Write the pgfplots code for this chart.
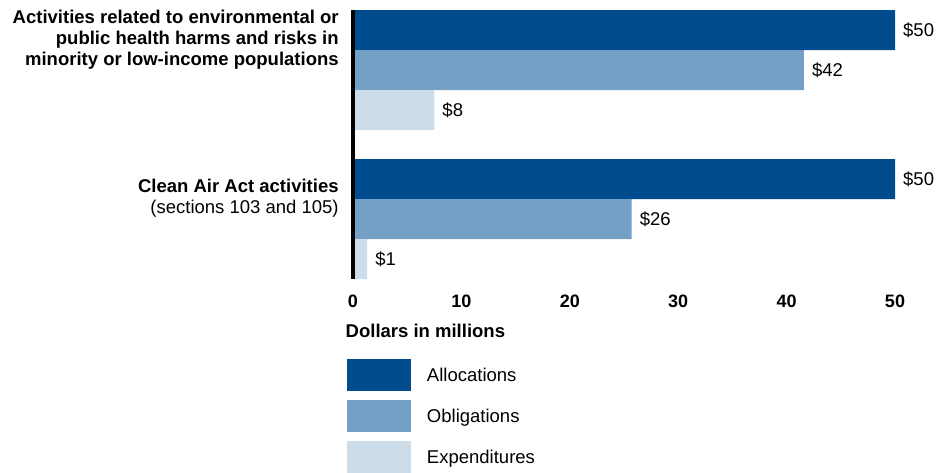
\documentclass[border=0pt]{standalone}
\usepackage{pgfplots}
\pgfplotsset{compat=1.18}
\usepackage{fontspec}
\setmainfont{Liberation Sans}
\definecolor{alloc}{RGB}{0,76,142}
\definecolor{oblig}{RGB}{116,160,197}
\definecolor{expen}{RGB}{205,220,233}
\begin{document}
\fontsize{18.5}{21}\selectfont
\begin{tikzpicture}
\begin{axis}[
  name=main,
  scale only axis,
  width=542pt, height=269pt,
  xmin=0, xmax=50,
  ymin=10, ymax=279,
  y dir=reverse,
  axis on top,
  axis y line*=left,
  axis x line*=bottom,
  x axis line style={draw=none},
  y axis line style={line width=4pt, line cap=butt},
  xtick={0,10,20,30,40,50},
  xticklabel style={font=\fontsize{18}{21}\selectfont\bfseries, yshift=-9.5pt},
  /pgf/number format/assume math mode=true,
  major tick length=0pt,
  ytick={39.5,198.5},
  yticklabels={{\textbf{Activities related to environmental or}\\\textbf{public health harms and risks in}\\\textbf{minority or low-income populations}},
               {\textbf{Clean Air Act activities}\\(sections 103 and 105)}},
  yticklabel style={align=right, font=\fontsize{18.5}{21}\selectfont, xshift=-8pt},
  xbar, bar width=40, bar shift=0pt,
  point meta=explicit symbolic,
  nodes near coords={\$\pgfplotspointmeta},
  nodes near coords style={anchor=west, font=\fontsize{18.5}{21}\selectfont, inner sep=0pt, xshift=8pt},
  xlabel={\textbf{Dollars in millions}},
  xlabel style={at={(rel axis cs:0,0)}, anchor=north west, xshift=-7.5pt, yshift=-45pt, inner sep=0pt, font=\fontsize{18.5}{21}\selectfont},
  legend style={at={(rel axis cs:0,0)}, anchor=north west, xshift=-6pt, yshift=-80pt,
    draw=none, inner sep=0pt, outer sep=0pt, row sep=9pt, column sep=16pt,
    font=\fontsize{18.5}{21}\selectfont, nodes={inner sep=0pt}},
  legend cell align=left,
  legend image code/.code={\fill[#1] (0pt,-16pt) rectangle (64pt,16pt);},
]
\addplot[draw=none, fill=alloc] coordinates {(50,30) [50] (50,179) [50]};
\addplot[draw=none, fill=oblig] coordinates {(41.6,70) [42] (25.7,219) [26]};
\addplot[draw=none, fill=expen] coordinates {(7.5,110) [8] (1.3,259) [1]};
\legend{{\raisebox{-2pt}{Allocations}}, {\raisebox{-2pt}{Obligations}}, {\raisebox{-2pt}{Expenditures}}}
\end{axis}
\pgfresetboundingbox
\path[use as bounding box] ([xshift=-353pt,yshift=-193pt]main.south west) rectangle ([xshift=596pt,yshift=279pt]main.south west);
\end{tikzpicture}
\end{document}
